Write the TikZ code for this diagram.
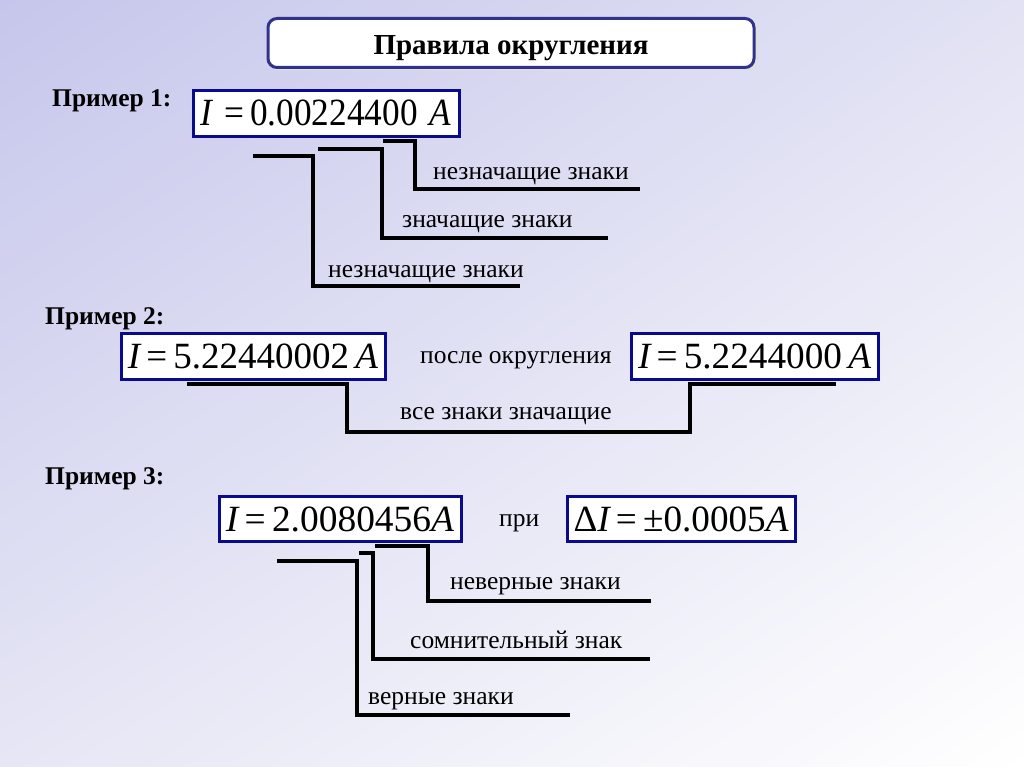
\documentclass[tikz,border=0pt]{standalone}
\usepackage{fontspec}
\setmainfont{Liberation Serif}
\usetikzlibrary{shadings}
\definecolor{lavA}{RGB}{198,198,236}
\definecolor{lavB}{RGB}{226,226,244}
\definecolor{lavC}{RGB}{230,230,245}
\definecolor{boxblue}{RGB}{10,10,140}
\definecolor{titleblue}{RGB}{50,50,140}
\newcommand\eqw[2]{\resizebox{#1}{\height}{#2}}
\begin{document}
\begin{tikzpicture}[x=1pt,y=-1pt,
  eqbox/.style={draw=boxblue,line width=3pt,fill=white,inner sep=0pt,minimum height=45pt,text height=25pt,text depth=0pt,font=\fontsize{37}{40}\selectfont},
  lbl/.style={anchor=base west,inner sep=0pt,font=\fontsize{25.5}{28}\selectfont},
  ex/.style={anchor=base west,inner sep=0pt,font=\fontsize{25.5}{28}\selectfont\bfseries},
  brk/.style={line width=3.2pt,line join=miter}]
\useasboundingbox (0,0) rectangle (1024,767);
\shade[upper left=lavA,upper right=lavB,lower left=lavC,lower right=white] (0,0) rectangle (1024,767);
% title
\fill[gray!25,rounded corners=9pt] (270,20) rectangle (758,70.5);
\node[draw=titleblue,line width=3pt,fill=white,rounded corners=9pt,minimum width=486pt,minimum height=49pt,inner sep=0pt,text height=24pt,text depth=0pt,font=\fontsize{29}{32}\selectfont\bfseries] (title) at (511,43) {Правила округления};
% example 1
\node[ex] (ex1) at (52,107) {Пример 1:};
\node[eqbox,minimum width=266pt,minimum height=46pt] (b1) at (326,113.5) {\fontsize{38.5}{40}\selectfont\eqw{250pt}{\itshape I\upshape\,\,=\,0.00224400\,\,\itshape A}};
\coordinate (a1) at (253,156); \coordinate (a2) at (313,156); \coordinate (a3) at (313,286); \coordinate (a4) at (520,286);
\coordinate (c1) at (318,149); \coordinate (c2) at (382,149); \coordinate (c3) at (382,238); \coordinate (c4) at (608,238);
\coordinate (d1) at (383,141); \coordinate (d2) at (415,141); \coordinate (d3) at (415,189); \coordinate (d4) at (640,189);
\draw[brk] (a1) -- (a2) -- (a3) -- (a4);
\draw[brk] (c1) -- (c2) -- (c3) -- (c4);
\draw[brk] (d1) -- (d2) -- (d3) -- (d4);
\node[lbl] (l1) at (433,180) {незначащие знаки};
\node[lbl] (l2) at (402,227) {значащие знаки};
\node[lbl] (l3) at (328,277) {незначащие знаки};
% example 2
\node[ex] (ex2) at (45,324) {Пример 2:};
\node[eqbox,minimum width=264pt,minimum height=46pt] (b2) at (253,356) {\eqw{250pt}{\itshape I\upshape\,=\,5.22440002\,\itshape A}};
\node[lbl] (l4) at (420,363) {после округления};
\node[eqbox,minimum width=247pt,minimum height=46pt] (b3) at (754.5,356) {\eqw{233pt}{\itshape I\upshape\,=\,5.2244000\,\itshape A}};
\coordinate (e1) at (187,384); \coordinate (e2) at (347,384); \coordinate (e3) at (347,432);
\coordinate (e4) at (690,432); \coordinate (e5) at (690,384); \coordinate (e6) at (836,384);
\draw[brk] (e1) -- (e2) -- (e3) -- (e4) -- (e5) -- (e6);
\node[lbl] (l5) at (400,419) {все знаки значащие};
% example 3
\node[ex] (ex3) at (45,484) {Пример 3:};
\node[eqbox,minimum width=242pt] (b4) at (340,518.5) {\eqw{228pt}{\itshape I\upshape\,=\,2.0080456\itshape A}};
\node[lbl] (l6) at (499,526) {при};
\node[eqbox,minimum width=228pt] (b5) at (681,518.5) {\eqw{215pt}{Δ\itshape I\upshape\,=\,±0.0005\itshape A}};
\coordinate (f1) at (375,546); \coordinate (f2) at (428,546); \coordinate (f3) at (428,601); \coordinate (f4) at (651,601);
\coordinate (g1) at (359,553); \coordinate (g2) at (373,553); \coordinate (g3) at (373,659); \coordinate (g4) at (650,659);
\coordinate (h1) at (277,561); \coordinate (h2) at (357,561); \coordinate (h3) at (357,715); \coordinate (h4) at (570,715);
\draw[brk] (f1) -- (f2) -- (f3) -- (f4);
\draw[brk] (g1) -- (g2) -- (g3) -- (g4);
\draw[brk] (h1) -- (h2) -- (h3) -- (h4);
\node[lbl] (l7) at (450,589) {неверные знаки};
\node[lbl] (l8) at (410,648) {сомнительный знак};
\node[lbl] (l9) at (368,704) {верные знаки};
\end{tikzpicture}
\end{document}
